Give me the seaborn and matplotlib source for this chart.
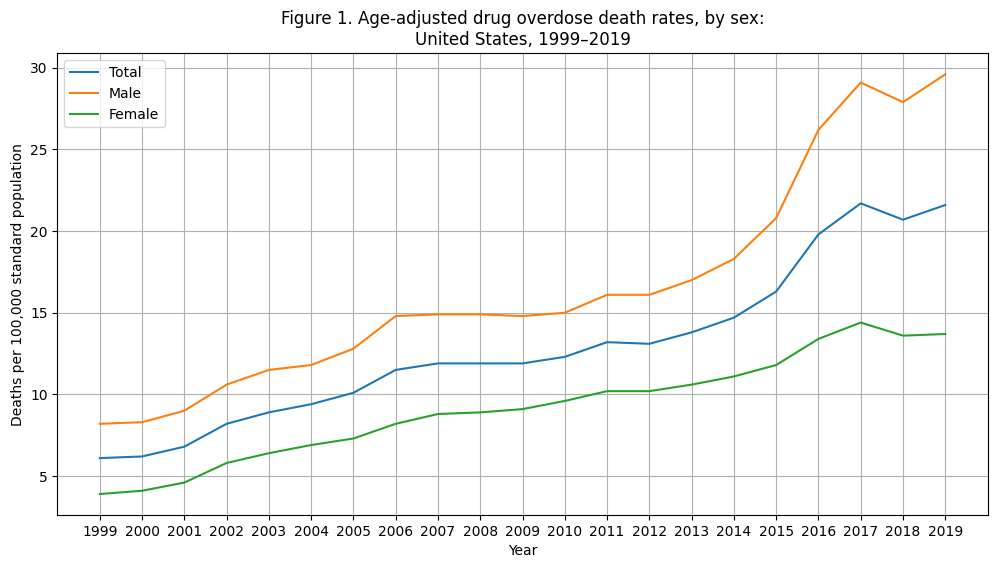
import matplotlib
matplotlib.use("Agg")
import matplotlib.pyplot as plt
import seaborn as sns
import pandas as pd

years = [str(y) for y in range(1999, 2020)]
total = [6.1, 6.2, 6.8, 8.2, 8.9, 9.4, 10.1, 11.5, 11.9, 11.9, 11.9, 12.3, 13.2, 13.1, 13.8, 14.7, 16.3, 19.8, 21.7, 20.7, 21.6]
male = [8.2, 8.3, 9.0, 10.6, 11.5, 11.8, 12.8, 14.8, 14.9, 14.9, 14.8, 15.0, 16.1, 16.1, 17.0, 18.3, 20.8, 26.2, 29.1, 27.9, 29.6]
female = [3.9, 4.1, 4.6, 5.8, 6.4, 6.9, 7.3, 8.2, 8.8, 8.9, 9.1, 9.6, 10.2, 10.2, 10.6, 11.1, 11.8, 13.4, 14.4, 13.6, 13.7]

df = pd.DataFrame({
    "Year": years * 3,
    "Rate": total + male + female,
    "Sex": ["Total"] * len(years) + ["Male"] * len(years) + ["Female"] * len(years),
})

fig, ax = plt.subplots(figsize=(9.96, 5.68), dpi=100)
sns.lineplot(data=df, x="Year", y="Rate", hue="Sex", ax=ax,
             palette=["#1f77b4", "#ff7f0e", "#2ca02c"])
ax.set_title("Figure 1. Age-adjusted drug overdose death rates, by sex:\nUnited States, 1999\u20132019")
ax.set_xlabel("Year")
ax.set_ylabel("Deaths per 100,000 standard population")
ax.grid(True)
ax.legend(title=None, loc="upper left")
fig.subplots_adjust(left=0.0577, right=0.9915, top=0.906, bottom=0.0933)
fig.savefig("out.png", dpi=100)
